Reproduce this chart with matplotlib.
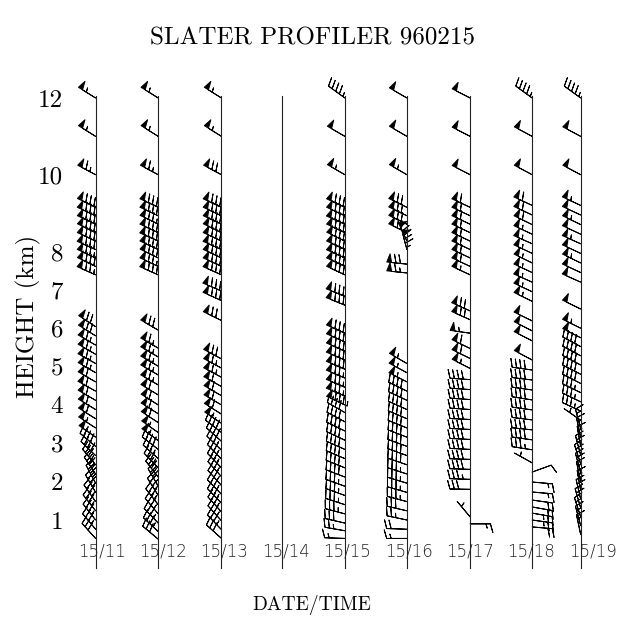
import numpy as np
import matplotlib.pyplot as plt

# Column times (hour of 15 Feb) where each profile was taken
t_11, t_12, t_13, t_14, t_15 = 10.88, 11.90, 12.93, 13.92, 14.94
t_16, t_17, t_18, t_19 = 15.95, 16.98, 17.99, 18.78

tick_hours = [11, 12, 13, 14, 15, 16, 17, 18, 19]
tick_labels = ['15/11', '15/12', '15/13', '15/14', '15/15',
               '15/16', '15/17', '15/18', '15/19']
height_ticks = [1, 2, 3, 4, 5, 6, 7, 8, 10, 12]

# Wind profiles: height (km), speed (kt), direction (deg, from)
h_11 = [12.0, 11.0, 10.0,
        9.15, 8.93, 8.71, 8.49, 8.27, 8.05, 7.83, 7.61, 7.39,
        6.04, 5.80, 5.56, 5.32, 5.08, 4.84, 4.60, 4.36, 4.12, 3.88, 3.64, 3.40, 3.16,
        2.92, 2.68, 2.44, 2.20, 1.96, 1.72, 1.48, 1.24, 1.00, 0.76, 0.52]
spd_11 = [55, 55, 65,
          80, 80, 80, 80, 80, 80, 75, 80, 75,
          70, 70, 65, 65, 65, 65, 60, 60, 60, 60, 60, 55, 55,
          40, 40, 35, 35, 35, 35, 35, 35, 35, 35, 30]
dir_11 = [302, 302, 298,
          296, 295, 295, 296, 295, 294, 295, 296, 294,
          303, 302, 300, 300, 299, 300, 300, 299, 300, 301, 302, 303, 305,
          310, 314, 320, 326, 332, 330, 325, 322, 322, 320, 318]

h_12 = [12.0, 11.0, 10.0,
        9.15, 8.93, 8.71, 8.49, 8.27, 8.05, 7.83, 7.61, 7.39,
        5.95, 5.48, 5.25, 5.01, 4.78, 4.52, 4.26, 4.00, 3.77, 3.54, 3.28, 3.07,
        2.84, 2.60, 2.36, 2.12, 1.88, 1.64, 1.40, 1.16, 0.92, 0.70, 0.50]
spd_12 = [55, 55, 65,
          80, 80, 75, 80, 80, 80, 80, 75, 80,
          70, 65, 65, 65, 65, 65, 60, 60, 60, 60, 55, 55,
          40, 35, 35, 35, 30, 35, 35, 35, 35, 35, 30]
dir_12 = [302, 302, 298,
          295, 295, 296, 295, 294, 295, 296, 295, 294,
          300, 300, 300, 300, 300, 300, 301, 302, 302, 303, 305, 306,
          308, 312, 316, 322, 330, 328, 322, 320, 316, 313, 310]

h_13 = [12.0, 11.0, 10.0,
        9.15, 8.93, 8.71, 8.49, 8.27, 8.05, 7.83, 7.61, 7.39,
        6.97, 6.72, 6.20,
        5.20, 4.96, 4.72, 4.48, 4.24, 4.00, 3.76, 3.52,
        3.28, 3.05, 2.82, 2.59, 2.36, 2.13, 1.90, 1.67, 1.44, 1.21, 0.98, 0.75, 0.52]
spd_13 = [55, 55, 70,
          80, 80, 80, 80, 80, 80, 80, 80, 80,
          80, 80, 70,
          70, 65, 65, 60, 60, 60, 60, 55,
          40, 40, 35, 35, 35, 35, 35, 35, 35, 35, 35, 35, 30]
dir_13 = [302, 302, 298,
          295, 295, 295, 296, 295, 294, 295, 295, 294,
          293, 294, 296,
          298, 298, 298, 299, 300, 300, 302, 304,
          308, 312, 314, 316, 316, 318, 318, 316, 316, 318, 318, 316, 312]

h_14, spd_14, dir_14 = [], [], []

h_15 = [12.0, 11.0, 10.0,
        9.15, 8.93, 8.71, 8.49, 8.27, 8.05, 7.83, 7.61, 7.39,
        6.83, 6.60,
        5.87, 5.64, 5.40, 5.17, 4.93, 4.70, 4.46, 4.23, 4.00,
        3.80, 3.56, 3.32, 3.08, 2.84, 2.60, 2.36, 2.12, 1.88, 1.64, 1.40, 1.16, 0.92,
        0.72, 0.52]
spd_15 = [45, 50, 55,
          80, 80, 80, 80, 80, 80, 80, 80, 80,
          80, 80,
          80, 80, 80, 80, 80, 75, 75, 75, 85,
          40, 40, 40, 40, 40, 40, 40, 40, 35, 35, 35, 35, 30,
          25, 15]
dir_15 = [306, 300, 300,
          295, 295, 294, 295, 296, 295, 294, 295, 295,
          292, 292,
          294, 294, 294, 293, 293, 293, 293, 293, 295,
          300, 298, 296, 295, 294, 293, 292, 291, 290, 290, 288, 285, 283,
          280, 272]

h_16 = [12.0, 11.0, 10.0,
        9.15, 8.93, 8.71, 8.49, 8.27, 8.05, 7.67, 7.44,
        5.08, 4.84, 4.60,
        4.36, 4.12, 3.88, 3.64, 3.40, 3.16, 2.92, 2.68, 2.44, 2.20, 1.96, 1.72, 1.48, 1.24,
        1.00, 0.76, 0.52]
spd_16 = [50, 50, 55,
          70, 70, 70, 70, 70, 75, 70, 65,
          55, 55, 55,
          40, 40, 40, 40, 40, 40, 40, 40, 40, 35, 35, 35, 35, 30,
          25, 20, 15]
dir_16 = [300, 300, 300,
          296, 296, 296, 296, 335, 345, 276, 276,
          300, 298, 297,
          296, 295, 294, 293, 292, 291, 290, 290, 289, 288, 287, 286, 285, 283,
          282, 272, 270]

h_17 = [12.0, 11.0, 10.0,
        9.15, 8.93, 8.71, 8.49, 8.27, 8.05, 7.83, 7.61, 7.39,
        6.45, 6.22, 5.87,
        5.47, 5.21, 4.95,
        4.66, 4.40, 4.14, 3.88, 3.62, 3.36, 3.10, 2.84, 2.58, 2.32, 2.06, 1.80,
        1.08, 0.90]
spd_17 = [50, 50, 50,
          60, 60, 60, 60, 60, 60, 60, 60, 55,
          70, 70, 55,
          60, 60, 55,
          40, 40, 40, 40, 40, 40, 40, 40, 40, 40, 35, 30,
          5, 15]
dir_17 = [297, 297, 297,
          295, 295, 295, 295, 295, 295, 295, 295, 295,
          294, 294, 278,
          296, 296, 297,
          274, 274, 274, 274, 273, 273, 273, 273, 272, 272, 272, 271,
          320, 90]

h_18 = [12.0, 11.0, 10.0,
        9.20, 8.95, 8.70, 8.45, 8.20, 7.95, 7.70, 7.45, 7.20, 6.95, 6.70,
        6.19, 5.93, 5.67, 5.17,
        4.91, 4.65, 4.39, 4.13, 3.87, 3.61, 3.35, 3.09, 2.83,
        2.49, 2.25,
        1.99, 1.73, 1.52, 1.34, 1.18, 1.00, 0.82]
spd_18 = [45, 50, 50,
          60, 60, 60, 55, 55, 55, 55, 55, 55, 55, 55,
          50, 50, 50, 50,
          40, 40, 40, 40, 40, 40, 40, 40, 35,
          5, 10,
          15, 15, 20, 20, 25, 25, 20]
dir_18 = [306, 298, 298,
          295, 295, 296, 295, 294, 295, 296, 295, 294, 295, 296,
          296, 297, 297, 298,
          278, 277, 278, 279, 278, 277, 276, 278, 279,
          299, 70,
          95, 95, 98, 100, 100, 98, 95]

h_19 = [12.0, 11.0, 10.0,
        9.20, 8.95, 8.70, 8.45, 8.20, 7.95, 7.70, 7.45, 7.20,
        6.50, 6.00, 5.75,
        5.52, 5.28, 5.04, 4.80, 4.56, 4.32, 4.08, 3.84,
        3.60,
        3.38, 3.15, 2.92, 2.69, 2.46, 2.23, 2.00, 1.77, 1.54, 1.31, 1.08, 0.85, 0.62]
spd_19 = [45, 50, 50,
          55, 50, 55, 50, 55, 50, 55, 50, 50,
          50, 55, 50,
          40, 40, 40, 40, 40, 35, 35, 35,
          5,
          15, 15, 15, 20, 20, 20, 15, 15, 20, 20, 15, 15, 15]
dir_19 = [306, 298, 298,
          295, 295, 296, 295, 294, 295, 296, 295, 294,
          296, 296, 297,
          298, 298, 298, 297, 297, 296, 296, 295,
          305,
          345, 348, 350, 345, 342, 345, 348, 350, 347, 344, 342, 345, 348]

columns = [(t_11, h_11, spd_11, dir_11), (t_12, h_12, spd_12, dir_12),
           (t_13, h_13, spd_13, dir_13), (t_14, h_14, spd_14, dir_14),
           (t_15, h_15, spd_15, dir_15), (t_16, h_16, spd_16, dir_16),
           (t_17, h_17, spd_17, dir_17), (t_18, h_18, spd_18, dir_18),
           (t_19, h_19, spd_19, dir_19)]

fig = plt.figure(figsize=(6.25, 6.18), dpi=100)
ax = fig.add_axes([70 / 625, 1 - 575 / 618, 550 / 625, 505 / 618])

barb_sizes = dict(spacing=0.22, height=0.42, width=0.24)

for t, h, spd, wdir in columns:
    ax.plot([t, t], [-0.25, 12.05], color='#222222', lw=0.8)
    if len(h) == 0:
        continue
    rad = np.deg2rad(wdir)
    u = -np.array(spd) * np.sin(rad)
    v = -np.array(spd) * np.cos(rad)
    ax.barbs(np.full(len(h), t), h, u, v, length=5.4, linewidth=0.7,
             barbcolor='k', flagcolor='k', sizes=barb_sizes)

# time labels sit on the profile lines near the bottom
for hr, lab in zip(tick_hours, tick_labels):
    ax.text(hr - 0.02, 0.19, lab, ha='center', va='center', fontsize=12,
            family='DejaVu Sans', fontweight='light', color='#222222')

ax.set_xlim(10.463, 19.42)
ax.set_ylim(-0.433, 12.73)
ax.set_xticks([])
ax.set_yticks(height_ticks)
ax.set_yticklabels([str(v) for v in height_ticks], family='cmr10', fontsize=18)
ax.tick_params(axis='y', length=0, pad=5)
for s in ax.spines.values():
    s.set_visible(False)

fig.text(312 / 625, 1 - 38 / 618, 'SLATER PROFILER 960215', ha='center',
         va='center', family='cmr10', fontsize=18)
fig.text(28 / 625, 1 - 316 / 618, 'HEIGHT (km)', ha='center', va='center',
         rotation=90, family='cmr10', fontsize=18)
fig.text(312 / 625, 1 - 605 / 618, 'DATE/TIME', ha='center', va='center',
         family='cmr10', fontsize=14)

fig.savefig('out.png', dpi=100)
